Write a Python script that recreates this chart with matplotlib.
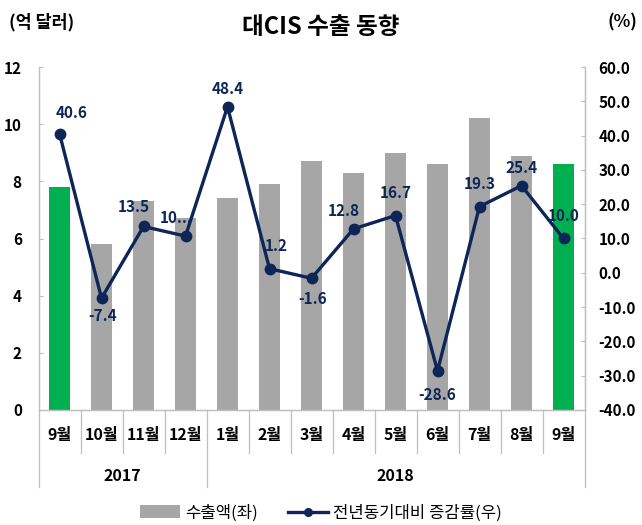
import matplotlib
matplotlib.use("Agg")
import matplotlib.pyplot as plt
import matplotlib.transforms as mtransforms
from matplotlib.patches import Patch
from matplotlib.lines import Line2D

plt.rcParams['font.family'] = ['Noto Sans CJK KR', 'DejaVu Sans']

# ---------------- data ----------------
months = ['9월', '10월', '11월', '12월', '1월', '2월', '3월', '4월', '5월', '6월', '7월', '8월', '9월']
years = ['2017', '2018']
year_spans = [(0, 3), (4, 12)]          # first/last category index of each year
exports = [7.8, 5.8, 7.3, 6.7, 7.4, 7.9, 8.7, 8.3, 9.0, 8.6, 10.2, 8.9, 8.6]   # 억 달러
growth = [40.6, -7.4, 13.5, 10.7, 48.4, 1.2, -1.6, 12.8, 16.7, -28.6, 19.3, 25.4, 10.0]  # %
growth_labels = ['40.6', '-7.4', '13.5', '10...', '48.4', '1.2', '-1.6', '12.8',
                 '16.7', '-28.6', '19.3', '25.4', '10.0']
highlight = [True] + [False] * 11 + [True]

left_ticks = [0, 2, 4, 6, 8, 10, 12]
right_ticks = [-40, -30, -20, -10, 0, 10, 20, 30, 40, 50, 60]

# ---------------- style ----------------
GRAY = '#A6A6A6'
GREEN = '#00B050'
NAVY = '#0E2557'
AXIS = '#BFBFBF'
FS = 11
# label offsets in points (dx, dy)
label_offsets = [(9, 15), (1, -13), (-7, 14), (-7, 13), (0, 13), (5, 16), (1, -15),
                 (-7, 13), (0, 16), (0, -17), (0, 16), (0, 13), (0, 16)]

fig = plt.figure(figsize=(6.42, 5.25), dpi=100)
ax = fig.add_axes([38.5 / 642, 1 - 410 / 525, (584.5 - 38.5) / 642, (410 - 67) / 525])
ax2 = ax.twinx()

x = list(range(len(months)))
colors = [GREEN if h else GRAY for h in highlight]
ax.bar(x, exports, width=0.5, color=colors, zorder=2)
ax.set_ylim(0, 12)
ax.set_xlim(-0.5, len(months) - 0.5)
ax.set_yticks(left_ticks)
ax.set_yticklabels([str(t) for t in left_ticks], fontsize=FS, fontweight='bold')
ax.tick_params(axis='y', direction='in', length=3, color=AXIS, pad=12)

ax2.plot(x, growth, color=NAVY, lw=2.4, marker='o', markersize=7.5, zorder=3)
ax2.set_ylim(-40, 60)
ax2.set_yticks(right_ticks)
ax2.set_yticklabels([f'{t:.1f}' for t in right_ticks], fontsize=FS, fontweight='bold')
ax2.tick_params(axis='y', direction='in', length=3, color=AXIS, pad=10)

for a in (ax, ax2):
    a.spines['top'].set_visible(False)
    for s in ('left', 'right', 'bottom'):
        a.spines[s].set_color(AXIS)
        a.spines[s].set_linewidth(0.9)

for xi, yi, lab, (dx, dy) in zip(x, growth, growth_labels, label_offsets):
    ax2.annotate(lab, (xi, yi), xytext=(dx, dy), textcoords='offset points',
                 ha='center', va='center', fontsize=FS, fontweight='bold', color=NAVY)

# month labels
ax.set_xticks(x)
ax.set_xticklabels(months, fontsize=11.5, fontweight='bold')
ax.tick_params(axis='x', length=0, pad=12)

# separators
trans = mtransforms.blended_transform_factory(ax.transData, ax.transAxes)
year_bounds = sorted({s - 0.5 for s, e in year_spans} | {e + 0.5 for s, e in year_spans})
for i in range(len(months) + 1):
    b = i - 0.5
    low = -0.225 if b in year_bounds else -0.125
    ax.plot([b, b], [0, low], transform=trans, color=AXIS, lw=0.9, clip_on=False)

for (s, e), yr in zip(year_spans, years):
    ax.text((s + e) / 2, -0.192, yr, transform=trans, ha='center', va='center',
            fontsize=11.5, fontweight='bold')

# titles
fig.text(0.5, 1 - 27 / 525, '대CIS 수출 동향', ha='center', va='center',
         fontsize=17, fontweight='bold')
fig.text(42 / 642, 1 - 22 / 525, '(억 달러)', ha='center', va='center',
         fontsize=12.5, fontweight='bold')
fig.text(622 / 642, 1 - 22 / 525, '(%)', ha='center', va='center',
         fontsize=12.5, fontweight='bold')

handles = [Patch(facecolor=GRAY, edgecolor='none'),
           Line2D([0], [0], color=NAVY, lw=2.4, marker='o', markersize=5.5)]
fig.legend(handles, ['수출액(좌)', '전년동기대비 증감률(우)'], loc='center',
           bbox_to_anchor=(0.5, 1 - 513 / 525), ncol=2, frameon=False,
           fontsize=12, handlelength=2.4, handleheight=0.8, columnspacing=1.8,
           handletextpad=0.3)

fig.savefig('out.png', dpi=100)
